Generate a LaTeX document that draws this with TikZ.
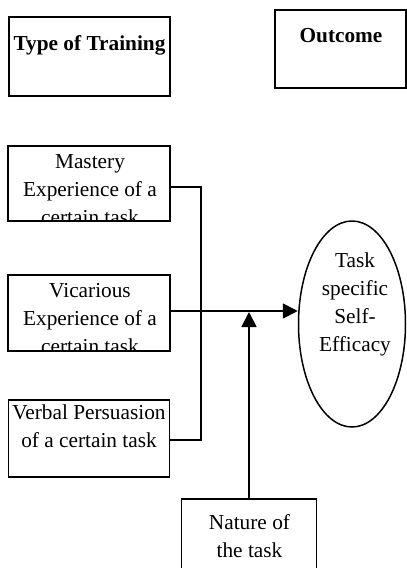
\documentclass[tikz,border=0pt]{standalone}
\usepackage{fontspec}
\setmainfont{Liberation Serif}
\usetikzlibrary{arrows.meta,shapes.geometric}

\tikzset{
  frame/.style={rectangle, inner sep=0pt},
  box/.style={frame, draw, line width=1.5pt},
  txt/.style={anchor=base, inner sep=0pt,
    font=\fontsize{21.3}{28}\selectfont},
  head/.style={anchor=base, inner sep=0pt,
    font=\fontsize{21.3}{28}\selectfont\bfseries},
  link/.style={line width=1.5pt},
  tip/.style={line width=1.8pt, -{Triangle[length=15pt,width=15pt]}},
}
\newcommand{\lines}[1]{\begin{tabular}[t]{@{}c@{}}#1\end{tabular}}

\begin{document}
\begin{tikzpicture}[x=1pt,y=-1pt]
\useasboundingbox (0,0) rectangle (407,568);

% headings
\node[box, minimum width=161pt, minimum height=79pt] (type) at (89.5,56.5) {};
\node[head] (typet) at (89.5,50) {Type of Training};
\node[box, minimum width=131pt, minimum height=78pt] (outc) at (340.5,49) {};
\node[head] (outct) at (341,42) {Outcome};

% three sources of training, text cut off at the lower edge
\node[frame, minimum width=162pt, minimum height=75pt] (mast) at (89,183.5) {};
\begin{scope}
  \clip (mast.south west) rectangle (mast.north east);
  \node[txt] (mastt) at (90,168) {\lines{Mastery\\Experience of a\\certain task}};
\end{scope}
\draw[line width=1.5pt] (mast.south west) rectangle (mast.north east);

\node[frame, minimum width=162pt, minimum height=76pt] (vica) at (89,313) {};
\begin{scope}
  \clip (vica.south west) rectangle (vica.north east);
  \node[txt] (vicat) at (90,297) {\lines{Vicarious\\Experience of a\\certain task}};
\end{scope}
\draw[line width=1.5pt] (vica.south west) rectangle (vica.north east);

\node[box, minimum width=161pt, minimum height=77pt] (verb) at (89,438.5) {};
\node[txt] (verbt) at (89,419) {\lines{Verbal Persuasion\\of a certain task}};

% outcome
\node[draw, line width=1.5pt, ellipse, minimum width=107pt, minimum height=206pt, inner sep=0pt]
  (eff) at (352,324) {};
\node[txt] (efft) at (355,267) {\lines{Task\\specific\\Self-\\Efficacy}};

% moderator
\node[box, minimum width=135pt, minimum height=90pt, anchor=north] (natu) at (249,498) {};
\node[txt] (natut) at (249.5,529) {\lines{Nature of\\the task}};

% connectors
\coordinate (j) at (201,311);
\draw[link] (mast.east |- 0,187) -| (201,187) -- (201,440) -- (verb.east |- 0,440);
\draw[link] (vica.east |- 0,311) -- (j);
\draw[tip] (j) -- (eff.west |- j);
\draw[tip] (natu.north) -- (natu.north |- 0,312);
\end{tikzpicture}
\end{document}
